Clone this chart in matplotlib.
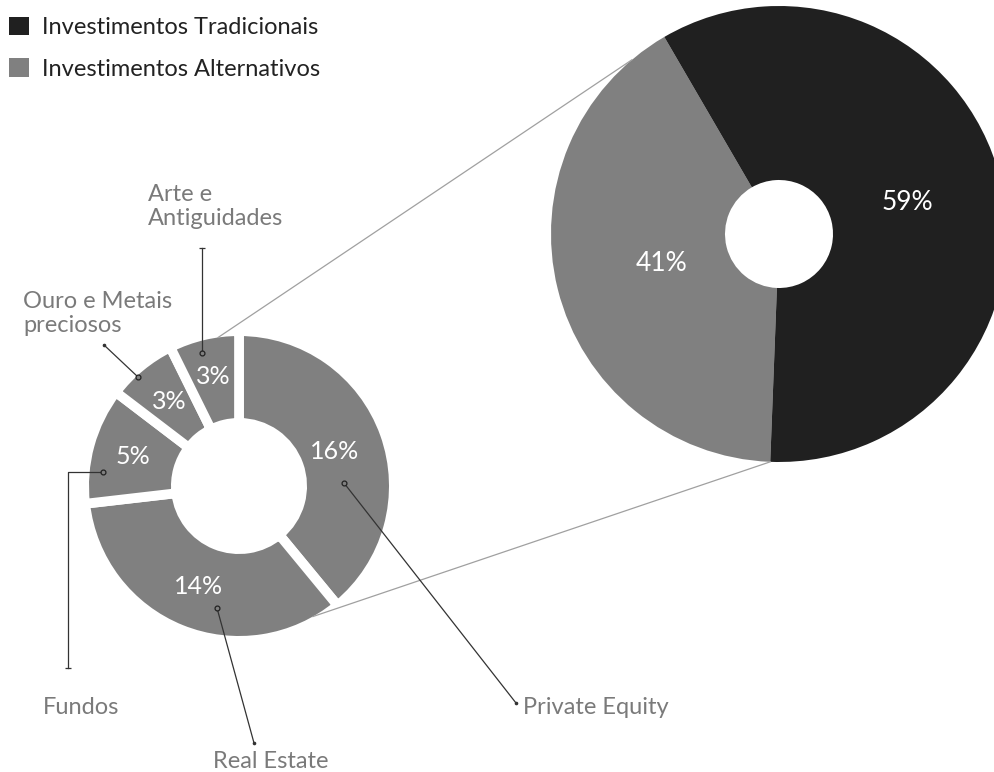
import numpy as np
import matplotlib
matplotlib.use('Agg')
import matplotlib.pyplot as plt

plt.rcParams['font.family'] = ['Lato', 'DejaVu Sans']

# overall split
split_labels = ['Investimentos Alternativos', 'Investimentos Tradicionais']
split_values = [41, 59]

# breakdown of the alternative share
alt_labels = ['Private Equity', 'Real Estate', 'Fundos',
              'Ouro e Metais\npreciosos', 'Arte e\nAntiguidades']
alt_values = [16, 14, 5, 3, 3]

dark = '#202020'
grey = '#808080'
label_grey = '#7a7a7a'

W, H = 995, 772
fig = plt.figure(figsize=(W / 100, H / 100), dpi=100)
ax = fig.add_axes([0, 0, 1, 1])


def px(x, y):
    # image pixel (y down) -> data coords
    return x, H - y


# big pie
big_c = px(779, 234)
big_r = 228
big_hole = 54
wedges_big, _ = ax.pie(split_values, colors=[grey, dark], startangle=120.2,
                       center=big_c, radius=big_r, labeldistance=None,
                       wedgeprops=dict(width=big_r - big_hole, linewidth=0))
for w, v, rr in zip(wedges_big, split_values, [0.53, 0.58]):
    a = np.deg2rad((w.theta1 + w.theta2) / 2)
    ax.text(big_c[0] + rr * big_r * np.cos(a), big_c[1] + rr * big_r * np.sin(a),
            f'{v}%', color='white', fontsize=19, ha='center', va='center')

# small donut, white gaps between slices
sm_c = px(239, 486)
sm_r = 150
sm_hole = 68
gap = 7
pad = gap * 100 / 72 / 2
wedges_sm, _ = ax.pie(alt_values, colors=[grey] * len(alt_values), startangle=90,
                      counterclock=False, center=sm_c, radius=sm_r + pad,
                      labeldistance=None,
                      wedgeprops=dict(width=sm_r - sm_hole + 2 * pad,
                                      edgecolor='white', linewidth=gap))
for w, v, rr in zip(wedges_sm, alt_values, [102, 108, 110, 110, 112]):
    a = np.deg2rad((w.theta1 + w.theta2) / 2)
    ax.text(sm_c[0] + rr * np.cos(a), sm_c[1] + rr * np.sin(a),
            f'{v}%', color='white', fontsize=18, ha='center', va='center')

# zoom lines between donut and big pie
for a_sm, a_big in [(98, 130.2), (-60.5, 267.8)]:
    p0 = (sm_c[0] + sm_r * np.cos(np.deg2rad(a_sm)),
          sm_c[1] + sm_r * np.sin(np.deg2rad(a_sm)))
    p1 = (big_c[0] + big_r * np.cos(np.deg2rad(a_big)),
          big_c[1] + big_r * np.sin(np.deg2rad(a_big)))
    ax.plot([p0[0], p1[0]], [p0[1], p1[1]], color='#a0a0a0', lw=0.9,
            zorder=2)

# callouts: anchor point, path to label end, label position, alignment
callouts = [
    ([(344, 483), (516, 703)], (523, 708), 'center'),
    ([(217, 608), (254, 743)], (213, 762), 'center'),
    ([(103, 472), (68, 472), (68, 668)], (43, 707), 'center'),
    ([(138, 377), (104, 345)], (23, 291), 'top'),
    ([(202, 353), (202, 248)], (148, 184), 'top'),
]
for name, (path, (tx, ty), va) in zip(alt_labels, callouts):
    pts = [px(x, y) for x, y in path]
    xs, ys = zip(*pts)
    ax.plot(xs, ys, color='#333333', lw=0.9, zorder=3)
    ax.plot(xs[0], ys[0], 'o', ms=3.5, mfc=grey, mec='#222222', mew=0.9,
            zorder=4)
    if xs[-1] == xs[-2]:
        ax.plot(xs[-1], ys[-1], '_', ms=5, mew=0.9, color='#333333', zorder=4)
    else:
        ax.plot(xs[-1], ys[-1], 'o', ms=1.6, color='#333333', zorder=4)
    ax.text(*px(tx, ty), name, color=label_grey, fontsize=17,
            ha='left', va=va, linespacing=1.15)

# legend, traditional first
ax.legend([wedges_big[1], wedges_big[0]], [split_labels[1], split_labels[0]],
          loc='upper left', bbox_to_anchor=(-2 / W, 1 - 6 / H), frameon=False,
          fontsize=17, handlelength=0.85, handleheight=0.85,
          handletextpad=0.55, labelspacing=0.85, borderaxespad=0.3,
          borderpad=0.15, labelcolor='#222222')

ax.set_xlim(0, W)
ax.set_ylim(0, H)
ax.set_aspect('equal')
ax.axis('off')

fig.savefig('out.png', dpi=100, facecolor='white')
